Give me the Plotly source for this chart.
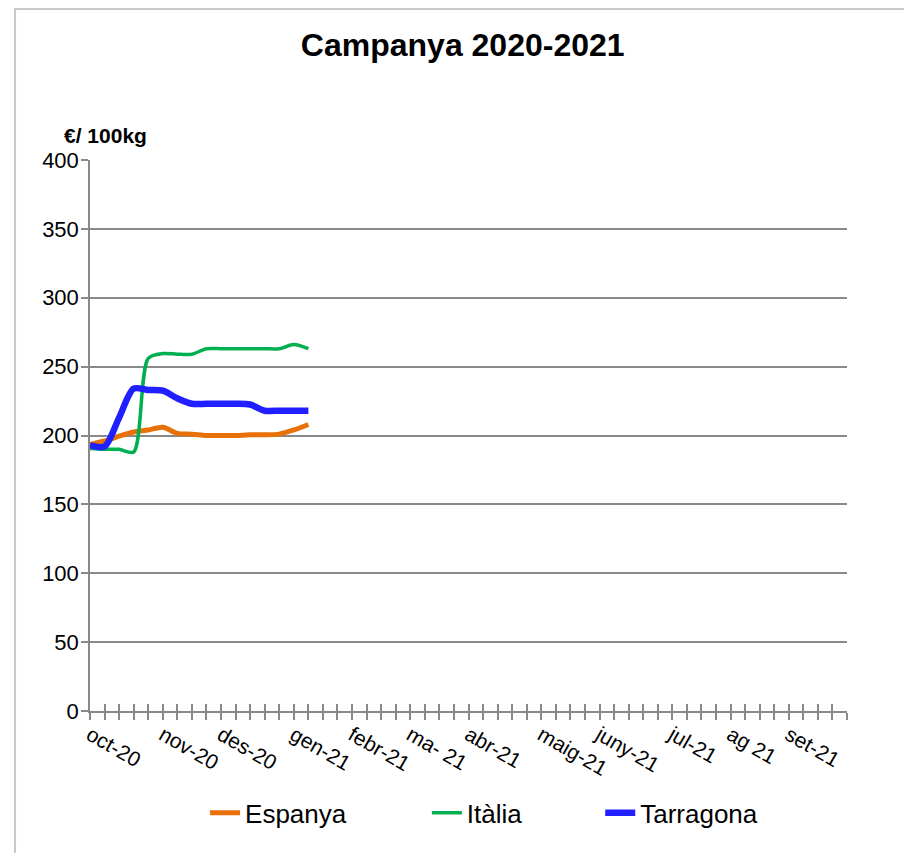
import plotly.graph_objects as go

# weekly prices, campaign 2020-2021 (week 0 = start of October)
weeks = list(range(16))
espanya = [193.5, 196, 199.5, 202.5, 204, 206, 201.5, 201, 200, 200, 200, 200.5, 200.5, 201, 204, 208]
italia = [190.5, 190, 190, 188, 256, 259.5, 259, 259, 263, 263, 263, 263, 263, 263, 266, 263]
tarragona = [193, 192, 213, 234, 233, 232.5, 227, 223, 223, 223, 223, 222.5, 218, 218, 218, 218]

month_weeks = [0, 5, 9, 14, 18, 22, 26, 31, 35, 40, 44, 48]
month_labels = ["oct-20", "nov-20", "des-20", "gen-21", "febr-21", "ma- 21", "abr-21",
                "maig-21", "juny-21", "jul-21", "ag 21", "set-21"]
n_weeks = 52

FONT = "Arial, Liberation Sans, sans-serif"
GRAY = "#898989"

fig = go.Figure()
fig.add_trace(go.Scatter(x=weeks, y=espanya, name="Espanya", mode="lines", legend="legend",
                         line=dict(color="#E8710A", width=5, shape="spline", smoothing=0.8)))
fig.add_trace(go.Scatter(x=weeks, y=italia, name="Itàlia", mode="lines", legend="legend2",
                         line=dict(color="#00B050", width=3.5, shape="spline", smoothing=0.8)))
fig.add_trace(go.Scatter(x=weeks, y=tarragona, name="Tarragona", mode="lines", legend="legend3",
                         line=dict(color="#1F1FFF", width=6.5, shape="spline", smoothing=0.8)))
# empty trace so the overlay axis carrying the inner tick marks is drawn
fig.add_trace(go.Scatter(x=[], y=[], xaxis="x2", showlegend=False, hoverinfo="skip"))

legend_style = dict(orientation="h", y=-0.185, yanchor="middle", xanchor="left",
                    font=dict(size=26), bgcolor="rgba(0,0,0,0)")

fig.update_layout(
    width=904, height=845,
    margin=dict(l=82, r=65, t=152, b=142),
    paper_bgcolor="white", plot_bgcolor="white",
    font=dict(family=FONT, size=22, color="black"),
    title=dict(text="<b>Campanya 2020-2021</b>", x=0.503, xanchor="center",
               y=0.956, yanchor="middle", font=dict(size=32, family=FONT)),
    showlegend=True,
    legend=dict(x=0.152, **legend_style),
    legend2=dict(x=0.445, **legend_style),
    legend3=dict(x=0.674, **legend_style),
    xaxis=dict(range=[0, n_weeks], tickmode="array", tickvals=month_weeks, ticktext=month_labels,
               tickangle=30, ticks="outside", ticklen=7, tickcolor=GRAY, tickwidth=1.5,
               ticklabelstandoff=-5,
               minor=dict(tickvals=list(range(n_weeks + 1)), ticks="outside", ticklen=7,
                          tickcolor=GRAY, tickwidth=1.5),
               showline=True, linecolor=GRAY, linewidth=1.5, showgrid=False, zeroline=False,
               tickfont=dict(size=21)),
    xaxis2=dict(range=[0, n_weeks], overlaying="x", anchor="y", side="bottom",
                tickmode="linear", tick0=0, dtick=1, ticks="inside", ticklen=7,
                tickcolor=GRAY, tickwidth=1.5, showticklabels=False,
                showline=False, showgrid=False, zeroline=False),
    yaxis=dict(range=[0, 400], dtick=50, ticks="outside", ticklen=7, tickcolor=GRAY,
               tickwidth=1.5, showline=True, linecolor=GRAY, linewidth=1.5,
               showgrid=True, gridcolor=GRAY, gridwidth=1.5, zeroline=False,
               ticklabelstandoff=-2, tickfont=dict(size=22)),
)

fig.add_annotation(text="<b>€/ 100kg</b>", xref="paper", yref="paper", x=-0.037, y=1.045,
                   xanchor="left", yanchor="middle", showarrow=False,
                   font=dict(size=21, family=FONT))

# outer chart frame
fig.add_shape(type="rect", xref="paper", yref="paper", x0=-0.099, y0=-0.5, x1=1.3, y1=1.274,
              line=dict(color="#C8C8C8", width=2), fillcolor="rgba(0,0,0,0)", layer="below")

fig.write_html("out.html")
